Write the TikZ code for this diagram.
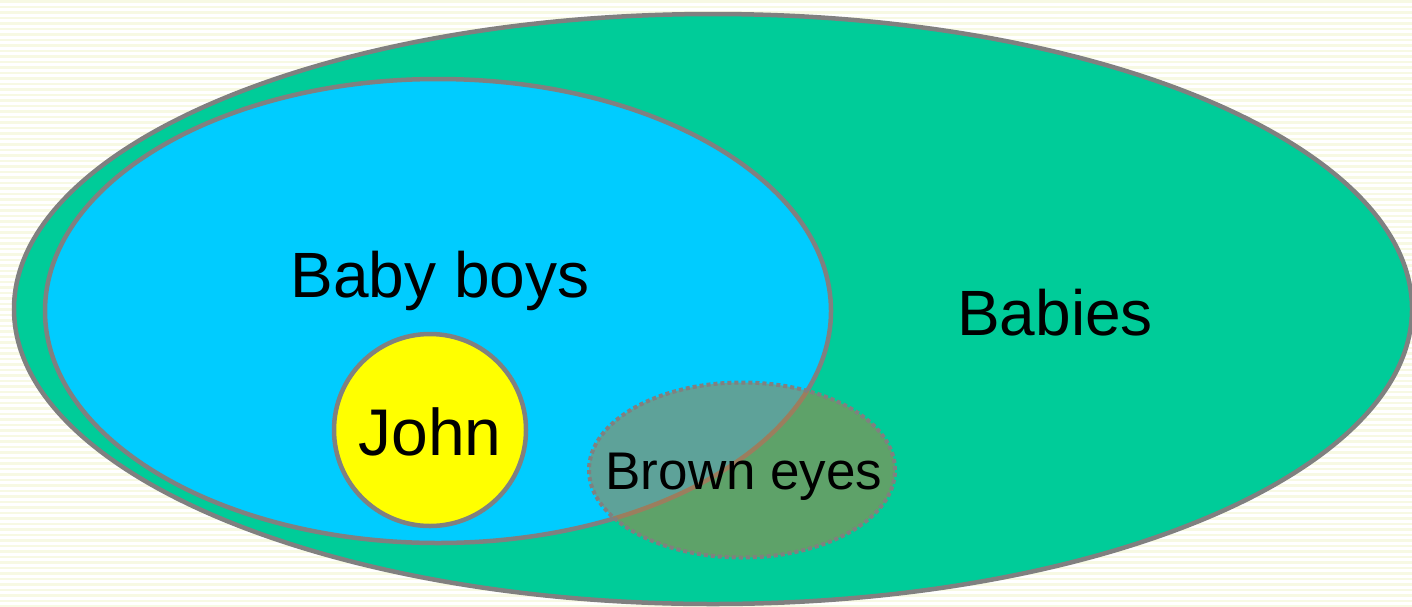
\documentclass[tikz,border=0pt]{standalone}
\usepackage{fontspec}
\setmainfont{Liberation Sans}
\usetikzlibrary{shapes.geometric}
\definecolor{stripe}{RGB}{247,249,227}
\definecolor{babygreen}{RGB}{0,204,153}
\definecolor{boyblue}{RGB}{0,204,255}
\definecolor{johnyellow}{RGB}{255,255,0}
\definecolor{browneye}{RGB}{179,126,64}
\definecolor{edgegray}{RGB}{128,128,128}
\tikzset{
  setshape/.style={ellipse, draw=edgegray, line width=4.5pt, inner sep=0pt},
  settext/.style={anchor=base, inner sep=0pt, text=black}
}
\begin{document}
\begin{tikzpicture}[x=1pt,y=-1pt]
\useasboundingbox (0,0) rectangle (1412,606);
\clip (0,0) rectangle (1412,606);
\fill[white] (0,0) rectangle (1412,606);
\foreach \i in {0,...,110} {
  \fill[stripe] (0,{\i*5.5}) rectangle (1412,{\i*5.5+2.75});
}
\node[setshape, fill=babygreen, minimum width=1398pt, minimum height=590pt] (babies) at (713,309) {};
\node[setshape, fill=boyblue, minimum width=786pt, minimum height=464pt] (boys) at (438,311) {};
\node[setshape, circle, fill=johnyellow, minimum size=192pt] (john) at (430,430) {};
\node[ellipse, inner sep=0pt, fill=browneye, fill opacity=0.53, draw=edgegray, draw opacity=1, line width=4pt, dash pattern=on 4pt off 3pt, minimum width=306pt, minimum height=175pt] (brown) at (742,470) {};
\node[settext, font=\fontsize{64}{70}\selectfont] (boyslabel) at (440,297) {Baby boys};
\node[settext, font=\fontsize{64}{70}\selectfont] (babieslabel) at (1055,335) {Babies};
\node[settext, font=\fontsize{66}{72}\selectfont] (johnlabel) at (430,455) {John};
\node[settext, font=\fontsize{53}{60}\selectfont] (brownlabel) at (744,489) {Brown eyes};
\end{tikzpicture}
\end{document}
